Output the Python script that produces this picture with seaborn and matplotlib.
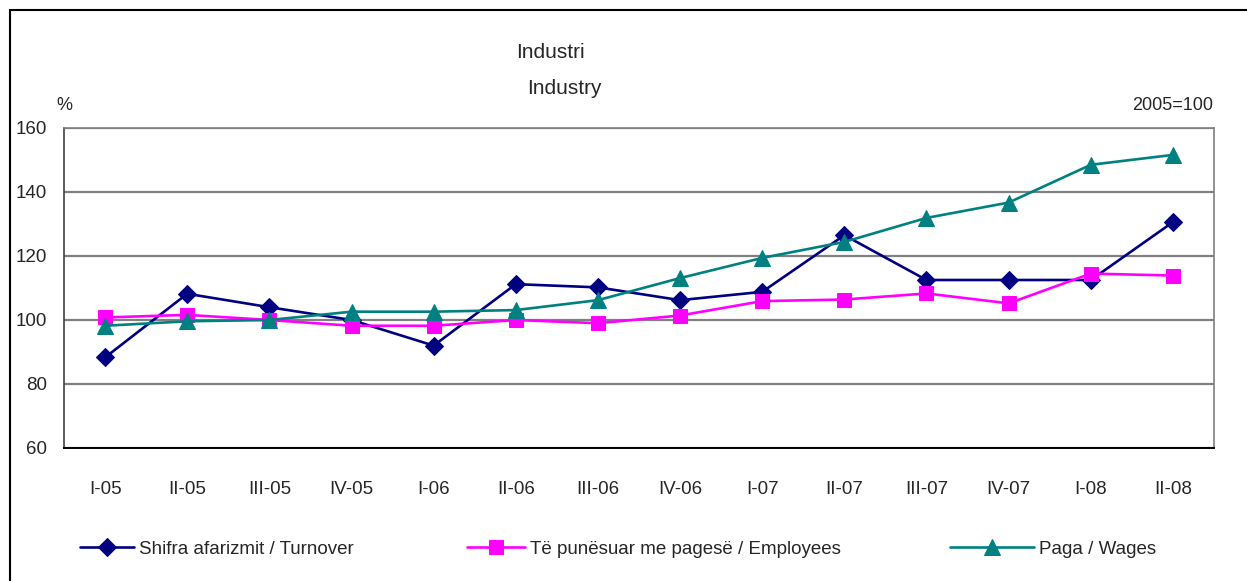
import matplotlib
matplotlib.use("Agg")
import matplotlib.pyplot as plt
from matplotlib.patches import Rectangle
from matplotlib.ticker import FixedLocator
import seaborn as sns
import pandas as pd

quarters = ["I-05", "II-05", "III-05", "IV-05", "I-06", "II-06", "III-06",
            "IV-06", "I-07", "II-07", "III-07", "IV-07", "I-08", "II-08"]
turnover = [88.3, 108.2, 104.0, 100.0, 92.0, 111.2, 110.2,
            106.2, 108.8, 126.5, 112.5, 112.5, 112.5, 130.6]
employees = [100.8, 101.6, 100.0, 98.2, 98.2, 100.0, 99.0,
             101.4, 105.9, 106.4, 108.3, 105.2, 114.5, 113.9]
wages = [98.2, 99.6, 100.0, 102.6, 102.6, 103.1, 106.2,
         113.1, 119.4, 124.4, 131.9, 136.7, 148.5, 151.6]

series_names = ["Shifra afarizmit / Turnover",
                "Të punësuar me pagesë / Employees",
                "Paga / Wages"]
series_colors = ["#000080", "#FF00FF", "#008080"]
series_markers = ["D", "s", "^"]
yticks = [60, 80, 100, 120, 140, 160]

rows = []
for name, vals in zip(series_names, [turnover, employees, wages]):
    for i, v in enumerate(vals):
        rows.append({"pos": i, "quarter": quarters[i], "series": name, "value": v})
df = pd.DataFrame(rows)

sns.set_style("white")
plt.rcParams["font.family"] = ["Liberation Sans", "DejaVu Sans"]

fig = plt.figure(figsize=(12.47, 5.81), dpi=100)
ax = fig.add_axes([64 / 1247, 1 - 448 / 581, 1150 / 1247, 320 / 581])

# marker size per series (diamond, square, triangle)
sizes = [9, 10, 11]
for name, color, marker, ms in zip(series_names, series_colors, series_markers, sizes):
    sub = df[df["series"] == name]
    sns.lineplot(data=sub, x="pos", y="value", ax=ax, color=color, marker=marker,
                 markersize=ms, markeredgecolor=color, linewidth=1.9,
                 label=name, legend=False)

ax.set_xlim(-0.5, len(quarters) - 0.5)
ax.set_ylim(60, 160)
ax.set_yticks(yticks)
ax.set_yticklabels([str(t) for t in yticks], fontsize=13.5)
ax.set_xticks(range(len(quarters)))
ax.set_xticklabels(quarters, fontsize=13.5)
ax.xaxis.set_minor_locator(FixedLocator([i - 0.5 for i in range(len(quarters) + 1)]))
ax.tick_params(axis="x", which="major", length=0, pad=24)
ax.tick_params(axis="x", which="minor", length=7, width=1, color="#222222", direction="out")
ax.tick_params(axis="y", which="major", length=6, width=1, color="#222222", direction="out", pad=6)
ax.set_xlabel("")
ax.set_ylabel("")
ax.grid(axis="y", color="#808080", linewidth=1.6)
ax.set_axisbelow(True)
for s in ["top", "right"]:
    ax.spines[s].set_color("#808080")
    ax.spines[s].set_linewidth(1.2)
ax.spines["left"].set_color("#404040")
ax.spines["bottom"].set_color("#000000")
ax.spines["left"].set_linewidth(1.2)
ax.spines["bottom"].set_linewidth(1.4)

fig.text(550 / 1247, 1 - 52 / 581, "Industri", ha="center", va="center", fontsize=15)
fig.text(564 / 1247, 1 - 88 / 581, "Industry", ha="center", va="center", fontsize=15)
fig.text(56 / 1247, 1 - 105 / 581, "%", ha="left", va="center", fontsize=13)
fig.text(1213 / 1247, 1 - 105 / 581, "2005=100", ha="right", va="center", fontsize=13)

handles, labels = ax.get_legend_handles_labels()
legend_x = [80, 467, 950]
handle_len = [2.9, 3.1, 4.5]
for h, lab, x, hl in zip(handles, labels, legend_x, handle_len):
    fig.legend([h], [lab], loc="center left",
               bbox_to_anchor=(x / 1247, 1 - 549 / 581), frameon=False,
               fontsize=13.5, handlelength=hl, handletextpad=0.25, borderpad=0,
               borderaxespad=0)

fig.patches.append(Rectangle((10 / 1247, -0.05), 1.2, 1 - 10 / 581 + 0.05,
                             transform=fig.transFigure, fill=False,
                             edgecolor="#000000", linewidth=1.5))

fig.savefig("out.png", dpi=100, facecolor="white")
